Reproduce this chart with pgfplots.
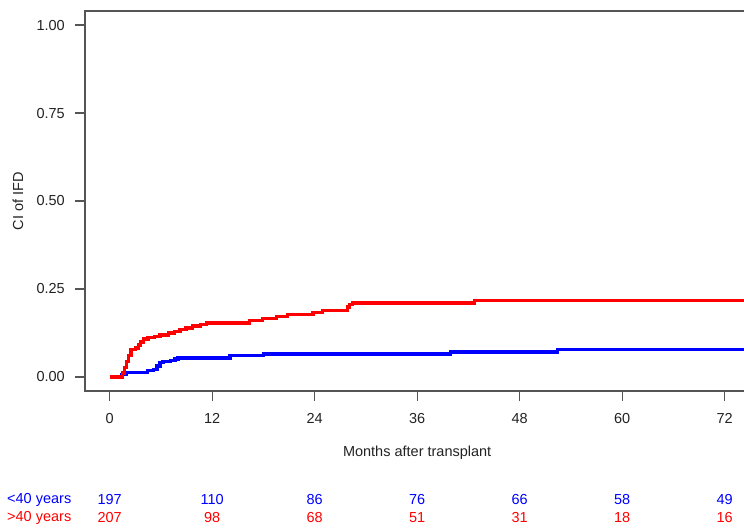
\documentclass[border=0pt]{standalone}
\usepackage{pgfplots}
\pgfplotsset{compat=1.18}
\usepackage{fontspec}
\setmainfont{Liberation Sans}
\definecolor{axisgray}{HTML}{555555}
\definecolor{textgray}{HTML}{222222}
\definecolor{cblue}{HTML}{0000FF}
\definecolor{cred}{HTML}{FF0000}
\tikzset{rb/.style={font=\fontsize{14.5}{17}\selectfont, text=cblue, inner sep=0pt},
         rr/.style={font=\fontsize{14.5}{17}\selectfont, text=cred, inner sep=0pt}}
\begin{document}
\begin{tikzpicture}[x=1pt,y=1pt]
\path[use as bounding box] (0,0) rectangle (744,528);
\begin{axis}[
  at={(85pt,137pt)}, anchor=south west,
  scale only axis, width=664.3pt, height=380pt,
  xmin=-2.88, xmax=74.88, ymin=-0.04, ymax=1.04,
  clip=false,
  xtick={0,12,24,36,48,60,72},
  ytick={0,0.25,0.5,0.75,1},
  tick pos=left, tick align=outside,
  major tick length=10pt,
  every tick/.style={axisgray, line width=1.2pt},
  axis line style={axisgray, line width=1.2pt},
  /pgf/number format/assume math mode=true,
  yticklabel style={/pgf/number format/fixed, /pgf/number format/fixed zerofill, /pgf/number format/precision=2, inner sep=0pt, xshift=-10pt},
  every tick label/.append style={font=\fontsize{14.5}{17}\selectfont, text=textgray},
  xticklabel style={inner sep=0pt, yshift=-12pt},
  xlabel={Months after transplant},
  ylabel={CI of IFD},
  xlabel style={at={(axis description cs:0.5,0)}, anchor=center, yshift=-62pt, font=\fontsize{14.5}{17}\selectfont, text=textgray},
  ylabel style={at={(axis description cs:-0.1009,0.5)}, anchor=center, font=\fontsize{14.5}{17}\selectfont, text=textgray},
]
\addplot[const plot, cblue, line width=3.2pt] coordinates {
(0,0) (1.45,0.007) (1.95,0.013) (4.4,0.018) (5.1,0.022) (5.55,0.031)
(5.9,0.040) (6.25,0.043) (7.1,0.047) (7.65,0.051) (8.0,0.054)
(14.1,0.060) (18.0,0.065) (39.9,0.071) (52.4,0.078) (74.88,0.078)
};
\addplot[const plot, cred, line width=3.2pt] coordinates {
(0,0) (1.5,0.011) (1.75,0.026) (2.0,0.043) (2.25,0.062) (2.5,0.077)
(3.0,0.082) (3.35,0.091) (3.6,0.099) (3.95,0.108) (4.5,0.111)
(5.3,0.115) (5.9,0.119) (6.85,0.125) (7.55,0.129) (8.25,0.134)
(8.95,0.139) (9.75,0.145) (10.6,0.149) (11.3,0.153) (16.4,0.160)
(17.9,0.166) (19.5,0.172) (20.8,0.178) (23.8,0.183) (24.9,0.188)
(27.8,0.199) (28.05,0.205) (28.4,0.210) (42.7,0.217) (74.88,0.217)
};
% risk table
\node[rb] at (axis cs:0,-0.349) {197};
\node[rb] at (axis cs:12,-0.349) {110};
\node[rb] at (axis cs:24,-0.349) {86};
\node[rb] at (axis cs:36,-0.349) {76};
\node[rb] at (axis cs:48,-0.349) {66};
\node[rb] at (axis cs:60,-0.349) {58};
\node[rb] at (axis cs:72,-0.349) {49};
\node[rr] at (axis cs:0,-0.400) {207};
\node[rr] at (axis cs:12,-0.400) {98};
\node[rr] at (axis cs:24,-0.400) {68};
\node[rr] at (axis cs:36,-0.400) {51};
\node[rr] at (axis cs:48,-0.400) {31};
\node[rr] at (axis cs:60,-0.400) {18};
\node[rr] at (axis cs:72,-0.400) {16};
\end{axis}
\node[rb, anchor=west] at (7,28) {<40 years};
\node[rr, anchor=west] at (7,10) {>40 years};
\end{tikzpicture}
\end{document}
